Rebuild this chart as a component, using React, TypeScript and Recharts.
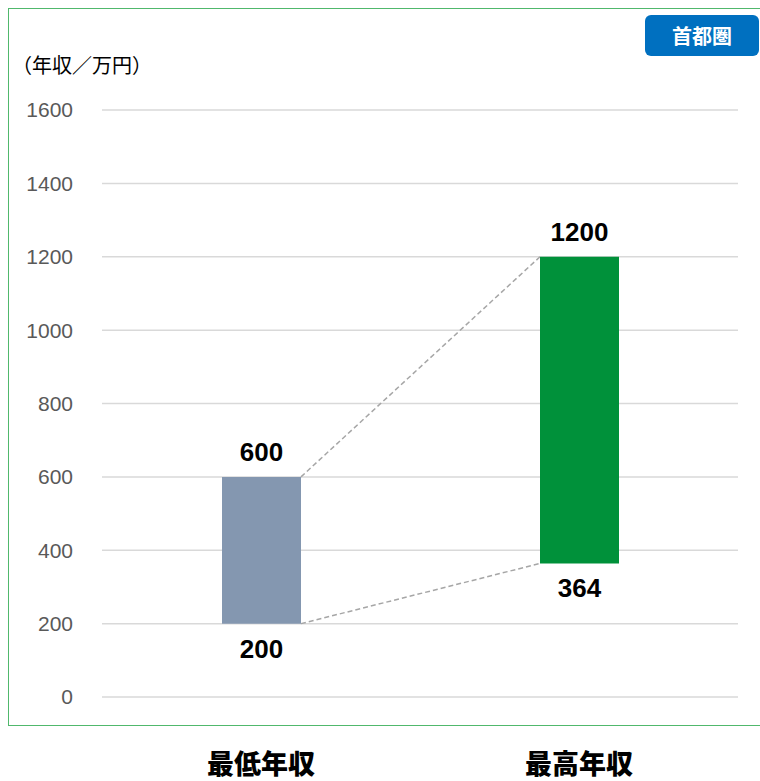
import React from 'react';
import { ComposedChart, Bar, XAxis, YAxis, CartesianGrid, Cell, LabelList, Rectangle } from 'recharts';

const categories = ['最低年収', '最高年収'];
const lowValues = [200, 364];
const highValues = [600, 1200];
const yTicks = [0, 200, 400, 600, 800, 1000, 1200, 1400, 1600];
const barColors = ['#8497B0', '#00913A'];

const data = categories.map((name, i) => ({ name, range: [lowValues[i], highValues[i]] }));

const CHART_W = 744;
const CHART_H = 773;
const Y_AXIS_W = 94;
const MARGIN_RIGHT = 14;
const PLOT_W = CHART_W - Y_AXIS_W - MARGIN_RIGHT;
const BAR_SIZE = 79;

const NUM_FONT = '"Liberation Sans", Arial, sans-serif';
const LABEL_FONT = '"Liberation Sans Narrow", "Arial Narrow", "Liberation Sans", Arial, sans-serif';
const CJK_FONT = '"Noto Sans CJK JP", "Noto Sans", sans-serif';

const BarShape = (props: any) => {
  const { x, y, width, height, index, fill } = props;
  const top = Math.min(y, y + height);
  const h = Math.abs(height);
  let connectors = null;
  if (index === 0 && categories.length > 1) {
    const pxPerUnit = h / (highValues[0] - lowValues[0]);
    const yOf = (v: number) => top + h - (v - lowValues[0]) * pxPerUnit;
    const bandW = PLOT_W / categories.length;
    const x1 = x + width;
    const x2 = x + bandW;
    connectors = (
      <g stroke="#A6A6A6" strokeWidth={1.5} strokeDasharray="5 3" fill="none">
        <line x1={x1} y1={yOf(highValues[0])} x2={x2} y2={yOf(highValues[1])} />
        <line x1={x1} y1={yOf(lowValues[0])} x2={x2} y2={yOf(lowValues[1])} />
      </g>
    );
  }
  return (
    <g>
      {connectors}
      <Rectangle x={x} y={top} width={width} height={h} fill={fill} />
    </g>
  );
};

const BarLabels = (props: any) => {
  const { x, y, width, height, index } = props;
  const top = Math.min(y, y + height);
  const bottom = Math.max(y, y + height);
  const cx = x + width / 2;
  return (
    <g>
      <text x={cx} y={top - 25} textAnchor="middle" dominantBaseline="central" fontFamily={LABEL_FONT} fontWeight="bold" fontSize={26} fill="#000">
        {highValues[index]}
      </text>
      <text x={cx} y={bottom + 25} textAnchor="middle" dominantBaseline="central" fontFamily={LABEL_FONT} fontWeight="bold" fontSize={26} fill="#000">
        {lowValues[index]}
      </text>
    </g>
  );
};

const CategoryTick = (props: any) => {
  const { x, y, payload } = props;
  return (
    <text x={x} y={y + 65} textAnchor="middle" dominantBaseline="central" fontFamily={CJK_FONT} fontWeight={900} fontSize={27} fill="#000">
      {payload.value}
    </text>
  );
};

export default function App() {
  return (
    <div style={{ position: 'relative', width: 752, height: 773 }}>
      <style>{`html{overflow:hidden} body{margin:8px 0 0 8px}`}</style>
      <div style={{ position: 'absolute', left: 0, top: 0, width: 760, height: 718, borderTop: '1px solid #50B86C', borderLeft: '1px solid #50B86C', borderBottom: '1px solid #50B86C', boxSizing: 'border-box' }} />
      <div style={{ position: 'absolute', left: 637, top: 7, width: 114, height: 41, background: '#0070C0', borderRadius: 6, color: '#fff', fontFamily: CJK_FONT, fontWeight: 'bold', fontSize: 20, display: 'flex', alignItems: 'center', justifyContent: 'center' }}>
        首都圏
      </div>
      <div style={{ position: 'absolute', left: 4, top: 45, fontFamily: CJK_FONT, fontSize: 20, color: '#000', whiteSpace: 'nowrap', lineHeight: '24px' }}>
        （年収／万円）
      </div>
      <div style={{ position: 'absolute', left: 0, top: 0 }}>
        <ComposedChart width={CHART_W} height={CHART_H} data={data} margin={{ top: 102, right: MARGIN_RIGHT, bottom: 0, left: 0 }}>
          <CartesianGrid vertical={false} stroke="#D9D9D9" strokeWidth={1.5} />
          <XAxis dataKey="name" type="category" height={84} axisLine={false} tickLine={false} tickSize={0} tickMargin={0} tick={<CategoryTick />} interval={0} />
          <YAxis width={Y_AXIS_W} domain={[0, 1600]} ticks={yTicks} axisLine={false} tickLine={false} tickSize={0} tickMargin={29} tick={{ fill: '#595959', fontSize: 21, fontFamily: NUM_FONT }} interval={0} />
          <Bar dataKey="range" barSize={BAR_SIZE} isAnimationActive={false} shape={<BarShape />}>
            {data.map((d, i) => (
              <Cell key={d.name} fill={barColors[i]} />
            ))}
            <LabelList dataKey="range" content={<BarLabels />} />
          </Bar>
        </ComposedChart>
      </div>
    </div>
  );
}
